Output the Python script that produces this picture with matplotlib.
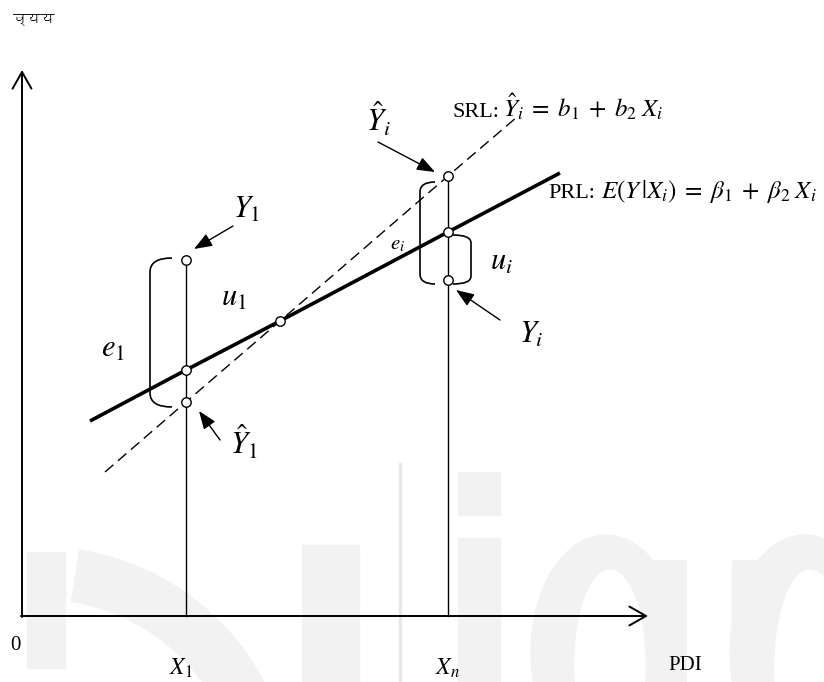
import numpy as np
import matplotlib
matplotlib.use("Agg")
import matplotlib.pyplot as plt
from matplotlib import font_manager, ft2font
from matplotlib.patches import Rectangle, Ellipse, Wedge, PathPatch
from matplotlib.path import Path

plt.rcParams['mathtext.fontset'] = 'stix'
plt.rcParams['font.family'] = ['Liberation Serif', 'DejaVu Serif']

# x positions of the two observations on the PDI axis
x_obs = [186, 448]
# actual Y, PRL value and SRL value at each x (pixel space, y grows downward)
y_actual = [260, 280]
y_prl = [370, 232]
y_srl = [402, 176]

# the two regression lines
prl_x = [90, 186, 280, 448, 560]
prl_y = [421, 370, 321, 232, 173]
srl_x = [105, 186, 280, 448, 517]
srl_y = [472, 402, 321, 176, 117]
cross = (280, 321)

axis_origin = (22, 616)
axis_top = 70
axis_right = 648


def find_font(ch, default='DejaVu Sans'):
    for f in font_manager.fontManager.ttflist:
        try:
            if ord(ch) in ft2font.FT2Font(f.fname).get_charmap():
                return f.name
        except Exception:
            pass
    return default


def bracket(ax, x_tip, x_edge, y0, y1, r=14, lw=1.2):
    verts = [(x_edge, y0), (x_tip, y0), (x_tip, y0 + r),
             (x_tip, y1 - r), (x_tip, y1), (x_edge, y1)]
    codes = [Path.MOVETO, Path.CURVE3, Path.CURVE3,
             Path.LINETO, Path.CURVE3, Path.CURVE3]
    ax.add_patch(PathPatch(Path(verts, codes), fill=False, lw=lw,
                           color='black', zorder=3))


def pointer(ax, tail, tip):
    ax.annotate('', xy=tip, xytext=tail,
                arrowprops=dict(arrowstyle='-|>,head_length=1.1,head_width=0.42',
                                lw=1.0, color='black', shrinkA=0, shrinkB=0),
                zorder=4)


fig = plt.figure(figsize=(8.24, 6.82), dpi=100)
ax = fig.add_axes([0, 0, 1, 1])
ax.set_xlim(0, 824)
ax.set_ylim(682, 0)
ax.axis('off')

# faint logo in the background
wm = '#f2f2f2'
ax.add_patch(Wedge((40, 800), 253, -81, -20, width=52, color=wm, zorder=0))
ax.add_patch(Rectangle((27, 552), 38, 116, color=wm, zorder=0))
ax.add_patch(Rectangle((302, 545), 57, 140, color=wm, zorder=0))
ax.add_patch(Rectangle((399, 463), 2, 220, color='#e8e8e8', zorder=0))
ax.add_patch(Rectangle((458, 472), 42, 43, color=wm, zorder=0))
ax.add_patch(Rectangle((458, 538), 42, 150, color=wm, zorder=0))
ax.add_patch(Ellipse((606, 652), 150, 234, color=wm, zorder=0))
ax.add_patch(Ellipse((610, 665), 70, 190, color='white', zorder=0.5))
ax.add_patch(Rectangle((645, 560), 41, 125, color=wm, zorder=0))
ax.add_patch(Rectangle((732, 560), 40, 125, color=wm, zorder=0))
ax.add_patch(Ellipse((805, 652), 150, 234, color=wm, zorder=0))
ax.add_patch(Ellipse((810, 668), 70, 196, color='white', zorder=0.5))
ax.add_patch(Rectangle((732, 640), 40, 45, color=wm, zorder=0.6))

# axes with open arrow heads
ox, oy = axis_origin
arrow_kw = dict(arrowstyle='->,head_length=1.2,head_width=0.68', lw=1.4,
                color='black', shrinkA=0, shrinkB=0)
ax.annotate('', xy=(ox, axis_top), xytext=(ox, oy + 1), arrowprops=arrow_kw)
ax.annotate('', xy=(axis_right, oy), xytext=(ox - 1, oy), arrowprops=arrow_kw)

# verticals at X1 and Xn
ax.plot([x_obs[0], x_obs[0]], [y_actual[0], oy], color='black', lw=1.0, zorder=2)
ax.plot([x_obs[1], x_obs[1]], [y_srl[1], oy], color='black', lw=1.0, zorder=2)

# regression lines
ax.plot(prl_x, prl_y, color='black', lw=2.6, solid_capstyle='butt', zorder=2)
ax.plot(srl_x, srl_y, color='black', lw=1.0, dashes=(8, 4.3), zorder=2)

# points
px = [x_obs[0]] * 3 + [cross[0]] + [x_obs[1]] * 3
py = [y_actual[0], y_prl[0], y_srl[0], cross[1], y_srl[1], y_prl[1], y_actual[1]]
ax.plot(px, py, 'o', ms=6.8, mfc='white', mec='black', mew=1.0, zorder=5)

# brackets
bracket(ax, 150, 172, 258, 407)
bracket(ax, 420, 435, 182, 284, r=10)
bracket(ax, 471, 453, 235, 284, r=8)

# pointers to labelled points
pointer(ax, (233, 226), (194, 249))
pointer(ax, (220, 440), (199, 411))
pointer(ax, (378, 142), (435, 172))
pointer(ax, (500, 320), (456, 290))

big = 22
ax.text(247, 210, r'$Y_1$', fontsize=big, ha='center', va='center')
ax.text(234, 298, r'$u_1$', fontsize=big, ha='center', va='center')
ax.text(113, 349, r'$e_1$', fontsize=big, ha='center', va='center')
ax.text(244, 443, r'$\hat{Y}_1$', fontsize=big, ha='center', va='center')
ax.text(379, 120, r'$\hat{Y}_i$', fontsize=big, ha='center', va='center')
ax.text(398, 245, r'$e_i$', fontsize=15, ha='center', va='center')
ax.text(501, 262, r'$u_i$', fontsize=big, ha='center', va='center')
ax.text(531, 335, r'$Y_i$', fontsize=big, ha='center', va='center')

# line equations: roman tag, then the formula
ax.text(453, 117, 'SRL:', fontsize=16, ha='left', va='baseline')
ax.text(503, 117, r'$\hat{Y}_i\;=\;b_1\;+\;b_2\;X_i$', fontsize=18,
        ha='left', va='baseline')
ax.text(548, 198, 'PRL:', fontsize=16, ha='left', va='baseline')
ax.text(601, 198, r'$E(Y\,|X_i)\;=\;\beta_1\;+\;\beta_2\;X_i$', fontsize=18,
        ha='left', va='baseline')

ax.text(15, 645, '0', fontsize=15, ha='center', va='center')
ax.text(181, 668, r'$X_1$', fontsize=17, ha='center', va='center')
ax.text(447, 668, r'$X_n$', fontsize=17, ha='center', va='center')
ax.text(685, 665, 'PDI', fontsize=15, ha='center', va='center')

hindi = find_font('\u0935')
ax.text(13, 19, 'व्यय', fontsize=10, ha='left', va='center',
        family=[hindi, 'DejaVu Sans'])

fig.savefig('out.png', dpi=100)
